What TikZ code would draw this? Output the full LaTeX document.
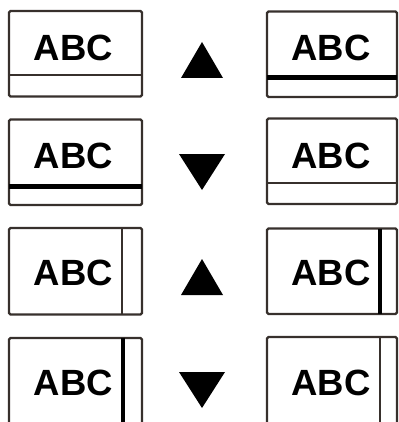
\documentclass[tikz,border=0pt]{standalone}
\usepackage{fontspec}
\newfontfamily\abcfont{Liberation Sans}
\usepackage{tikz}

\begin{document}
\begin{tikzpicture}[x=1pt,y=1pt,yscale=-1,xscale=1,
  frame/.style={draw={rgb,255:red,55;green,48;blue,44},line width=2.4pt,rounded corners=1.5pt},
  thinbar/.style={draw={rgb,255:red,55;green,48;blue,44},line width=2pt},
  thickbar/.style={draw=black,line width=4.5pt},
  arrowtri/.style={fill=black,draw=none},
  label/.style={font=\abcfont\bfseries\fontsize{36.5}{40}\selectfont,inner sep=0pt,anchor=center}]
\useasboundingbox (0,0) rectangle (398,422);

%Row 1: thin bar, up, thick bar
\draw [frame] (9,11) rectangle (142,96.5) ;
\draw [thinbar] (9,75) -- (142,75) ;
\draw [arrowtri] (202,42) -- (223,78) -- (181,78) -- cycle ;
\draw [frame] (267,11.5) rectangle (397,97) ;
\draw [thickbar] (267,77.5) -- (397,77.5) ;
% Text Node
\node [label] (abcA) at (73.5,47.5) {ABC};
% Text Node
\node [label] (abcB) at (331,47.5) {ABC};

%Row 2: thick bar, down, thin bar
\draw [frame] (9,119.5) rectangle (142,205) ;
\draw [thickbar] (9,186.5) -- (142,186.5) ;
\draw [arrowtri] (179,154) -- (225,154) -- (202,190) -- cycle ;
\draw [frame] (267,118.5) rectangle (397,204) ;
\draw [thinbar] (267,183) -- (397,183) ;
% Text Node
\node [label] (abcC) at (73.5,155.5) {ABC};
% Text Node
\node [label] (abcD) at (331,155.5) {ABC};

%Row 3: thin bar, up, thick bar
\draw [frame] (9,228) rectangle (142,314.5) ;
\draw [thinbar] (122,228) -- (122,314.5) ;
\draw [arrowtri] (202,259) -- (223,295) -- (181,295) -- cycle ;
\draw [frame] (267,228.5) rectangle (397,314) ;
\draw [thickbar] (380,228.5) -- (380,314) ;
% Text Node
\node [label] (abcE) at (73.5,272.5) {ABC};
% Text Node
\node [label] (abcF) at (331,272.5) {ABC};

%Row 4: thick bar, down, thin bar
\draw [frame] (9,338) rectangle (142,424) ;
\draw [thickbar] (123,338) -- (123,424) ;
\draw [arrowtri] (179,372) -- (225,372) -- (202,408) -- cycle ;
\draw [frame] (267,337) rectangle (397,424) ;
\draw [thinbar] (380,337) -- (380,424) ;
% Text Node
\node [label] (abcG) at (73.5,382.5) {ABC};
% Text Node
\node [label] (abcH) at (331,382.5) {ABC};

\end{tikzpicture}
\end{document}
